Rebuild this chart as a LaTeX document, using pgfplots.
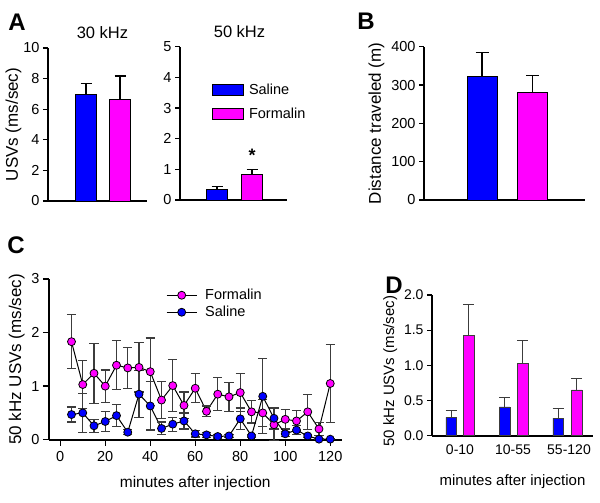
\documentclass[border=0pt]{standalone}
\usepackage{fontspec}
\setmainfont{Liberation Sans}
\usepackage{pgfplots}
\pgfplotsset{compat=1.18}
\definecolor{sal}{RGB}{0,0,255}
\definecolor{form}{RGB}{255,0,255}
\definecolor{errgray}{RGB}{60,60,60}
\newcommand{\fs}[1]{\fontsize{#1}{#1}\selectfont}
\pgfplotsset{
  panel/.style={scale only axis, clip=false,
    axis x line*=bottom, axis y line*=left,
    axis line style={line width=1.6pt},
    tick align=outside, major tick length=5pt,
    every tick/.style={black, line width=1.3pt},
    xtick=\empty,
    /pgf/number format/assume math mode=true,
    ticklabel style={font=\fs{14.5}},
    ylabel style={font=\fs{17}},
    xlabel style={font=\fs{15.5}},
    title style={font=\fs{16.5}},
  },
  bar/.style={ybar, draw=black, line width=0.8pt},
  ebar/.style={error bars/.cd, y dir=plus, y explicit,
    error bar style={line width=1.1pt, black},
    error mark options={rotate=90, mark size=5.5pt, line width=1.1pt, black}},
  gbar/.style={error bars/.cd, y dir=plus, y explicit,
    error bar style={line width=1pt, errgray},
    error mark options={rotate=90, mark size=5.5pt, line width=1pt, errgray}},
  cbar/.style={error bars/.cd, y dir=both, y explicit,
    error bar style={line width=1.2pt, errgray},
    error mark options={rotate=90, mark size=4.7pt, line width=1.2pt, errgray}},
}
\begin{document}
\begin{tikzpicture}
\path[use as bounding box] (0pt,0pt) rectangle (600pt,-503pt);

% panel letters
\node[font=\bfseries\fs{24}] at (17pt,-22pt) {A};
\node[font=\bfseries\fs{24}] at (366pt,-21pt) {B};
\node[font=\bfseries\fs{24}] at (16pt,-245pt) {C};
\node[font=\bfseries\fs{24}] at (394pt,-285pt) {D};

% A, 30 kHz
\begin{axis}[panel, at={(48pt,-201pt)}, anchor=south west,
  width=99pt, height=153pt, xmin=0, xmax=99, ymin=0, ymax=10,
  ytick={0,2,...,10}, ylabel={USVs (ms/sec)}, title={30 kHz},
  title style={xshift=5pt}, ylabel style={yshift=-5pt}]
\addplot[bar, bar width=21pt, fill=sal, ebar] coordinates {(38,6.94) +- (0,0.72)};
\addplot[bar, bar width=21pt, fill=form, ebar] coordinates {(72,6.64) +- (0,1.53)};
\end{axis}

% A, 50 kHz
\begin{axis}[panel, at={(180pt,-200pt)}, anchor=south west,
  width=107pt, height=153.3pt, xmin=0, xmax=107, ymin=0, ymax=5,
  ytick={0,1,...,5}, title={50 kHz}, title style={xshift=6pt},
  legend image code/.code={\draw[#1] (0pt,-5.5pt) rectangle (31pt,5.5pt); \path (34pt,0pt);},
  legend style={at={(axis cs:32,3.85)}, anchor=north west, draw=none, fill=none,
    inner sep=0pt, font=\fs{14.5}, row sep=8pt}, legend cell align=left]
\addplot[bar, bar width=21pt, fill=sal, ebar] coordinates {(37,0.35) +- (0,0.08)};
\addplot[bar, bar width=21pt, fill=form, ebar] coordinates {(72,0.84) +- (0,0.16)};
\legend{Saline, Formalin}
\node[font=\bfseries\fs{18}] at (axis cs:72,1.45) {*};
\end{axis}

% B
\begin{axis}[panel, at={(424pt,-200pt)}, anchor=south west,
  width=161pt, height=153.3pt, xmin=0, xmax=161, ymin=0, ymax=400,
  ytick={0,100,...,400}, ylabel={Distance traveled (m)}]
\addplot[bar, bar width=30pt, fill=sal, ebar, error mark options={rotate=90, mark size=6.5pt, line width=1.1pt, black}]
  coordinates {(58,322) +- (0,63)};
\addplot[bar, bar width=30pt, fill=form, ebar, error mark options={rotate=90, mark size=6.5pt, line width=1.1pt, black}]
  coordinates {(108.5,282) +- (0,42)};
\end{axis}

% C
\begin{axis}[panel, at={(49pt,-439.7pt)}, anchor=south west,
  width=292.5pt, height=160.7pt, xmin=-5, xmax=125, ymin=0, ymax=3,
  xtick={0,20,...,120}, ytick={0,1,2,3}, major tick length=6pt,
  xlabel={minutes after injection}, ylabel={50 kHz USVs (ms/sec)},
  xticklabel style={yshift=-2pt}, xlabel style={yshift=-8pt},
  legend image code/.code={\draw[mark repeat=2, mark phase=2, #1]
    plot coordinates {(0pt,0pt) (15pt,0pt) (30pt,0pt)}; \path (36pt,0pt);},
  legend style={at={(axis cs:47,2.85)}, anchor=north west, draw=none, fill=none,
    inner sep=0pt, font=\fs{14.5}, row sep=1pt}, legend cell align=left]
\addplot[black, line width=1pt, mark=*, mark size=4pt,
  mark options={fill=form, draw=black, line width=0.8pt}, cbar]
  table[x=t, y=v, y error=e] {
t v e
5 1.83 0.50
10 1.03 0.45
15 1.24 0.56
20 1.00 0.30
25 1.39 0.46
30 1.34 0.38
35 1.35 0.46
40 1.27 0.63
45 0.74 0.34
50 1.01 0.48
55 0.64 0.25
60 0.96 0.27
65 0.53 0.10
70 0.85 0.31
75 0.80 0.27
80 0.88 0.35
85 0.52 0.21
90 0.50 0.25
95 0.28 0.30
100 0.38 0.18
105 0.35 0.20
110 0.52 0.33
115 0.20 0.12
120 1.05 0.73
};
\addplot[black, line width=1pt, mark=*, mark size=4pt,
  mark options={fill=sal, draw=black, line width=0.8pt}, cbar]
  table[x=t, y=v, y error=e] {
t v e
5 0.47 0.14
10 0.50 0.37
15 0.26 0.12
20 0.34 0.18
25 0.45 0.20
30 0.14 0.05
35 0.85 0.44
40 0.63 0.45
45 0.21 0.12
50 0.29 0.13
55 0.35 0.15
60 0.11 0.06
65 0.09 0.05
70 0.06 0.03
75 0.07 0.03
80 0.39 0.20
85 0.07 0.03
90 0.81 0.70
95 0.40 0.20
100 0.11 0.05
105 0.18 0.08
110 0.07 0.03
115 0.01 0.01
120 0.01 0.01
};
\legend{Formalin, Saline}
\end{axis}

% D
\begin{axis}[panel, at={(432pt,-435.7pt)}, anchor=south west,
  width=161pt, height=140.7pt, xmin=0, xmax=161, ymin=0, ymax=2,
  ytick={0,0.5,...,2}, yticklabel style={font=\fs{14}, /pgf/number format/.cd, fixed, fixed zerofill, precision=1},
  xtick={28,81,137}, xticklabels={0-10,10-55,55-120},
  xtick style={draw=none}, xticklabel style={font=\fs{14}},
  xlabel={minutes after injection}, ylabel={50 kHz USVs (ms/sec)},
  ylabel style={font=\fs{15}, xshift=-6pt}, xlabel style={font=\fs{15}, yshift=-14pt}]
\addplot[ybar, bar width=10.5pt, fill=sal, draw=errgray, line width=0.5pt, gbar]
  coordinates {(19,0.26) +- (0,0.10) (72.5,0.41) +- (0,0.14) (126,0.25) +- (0,0.13)};
\addplot[ybar, bar width=10.5pt, fill=form, draw=errgray, line width=0.5pt, gbar]
  coordinates {(36.5,1.43) +- (0,0.44) (90.5,1.03) +- (0,0.32) (144.5,0.65) +- (0,0.17)};
\end{axis}
\end{tikzpicture}
\end{document}
